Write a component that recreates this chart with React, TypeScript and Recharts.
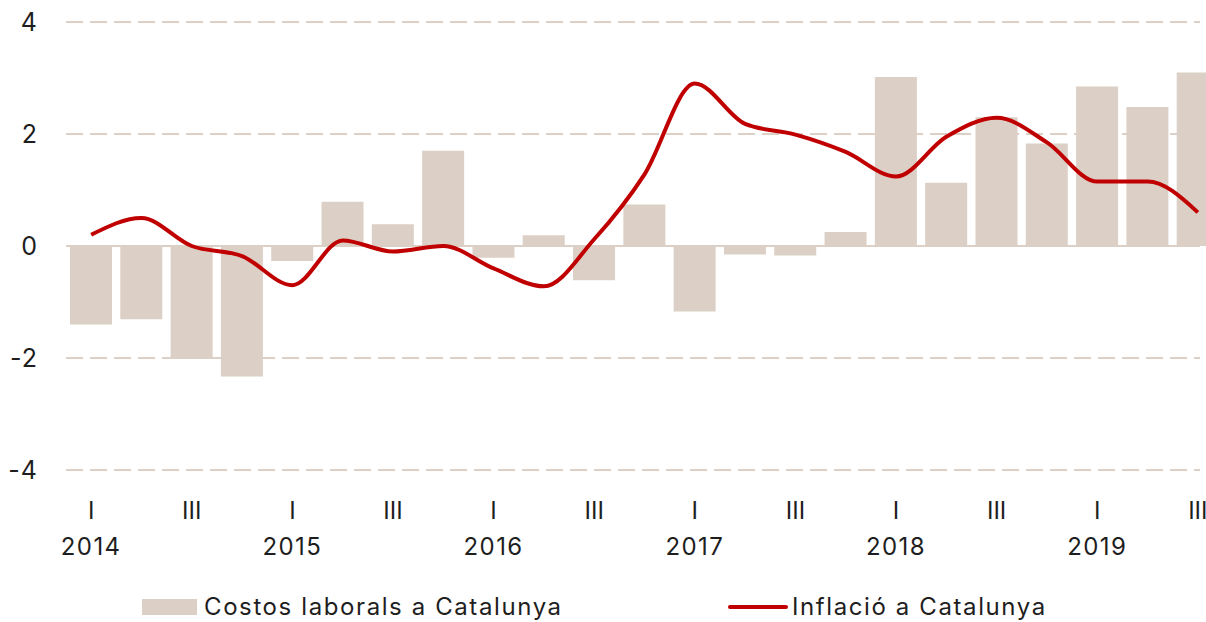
import React from "react";
import {
  ComposedChart,
  Bar,
  Line,
  XAxis,
  YAxis,
  CartesianGrid,
  ReferenceLine,
  Legend,
} from "recharts";

// trimestres 2014-I .. 2019-III
const periods = [
  "2014-I", "2014-II", "2014-III", "2014-IV",
  "2015-I", "2015-II", "2015-III", "2015-IV",
  "2016-I", "2016-II", "2016-III", "2016-IV",
  "2017-I", "2017-II", "2017-III", "2017-IV",
  "2018-I", "2018-II", "2018-III", "2018-IV",
  "2019-I", "2019-II", "2019-III",
];

const costosLaborals = [
  -1.4, -1.31, -2.02, -2.33,
  -0.27, 0.79, 0.39, 1.7,
  -0.21, 0.19, -0.61, 0.74,
  -1.17, -0.15, -0.17, 0.25,
  3.02, 1.13, 2.3, 1.83,
  2.85, 2.48, 3.1,
];

const inflacio = [
  0.2, 0.5, 0.0, -0.18,
  -0.7, 0.1, -0.1, 0.0,
  -0.4, -0.72, 0.12, 1.28,
  2.9, 2.18, 1.99, 1.68,
  1.24, 1.95, 2.29, 1.85,
  1.15, 1.15, 0.6,
];

const yTicks = [-4, -2, 0, 2, 4];
const shownQuarters = ["I", "III"];

const BAR_COLOR = "#dccfc6";
const LINE_COLOR = "#c00000";
const TEXT_COLOR = "#1e1e1e";
const FONT = "Inter, 'Noto Sans', sans-serif";

const data = periods.map((p, i) => ({
  period: p,
  costos: costosLaborals[i],
  inflacio: inflacio[i],
}));

const QuarterTick = (props: any) => {
  const { x, y, payload } = props;
  const [year, q] = String(payload.value).split("-");
  return (
    <g>
      {shownQuarters.includes(q) && (
        <text x={x} y={y + 49} textAnchor="middle" fill={TEXT_COLOR} fontSize={24} fontFamily={FONT}>
          {q}
        </text>
      )}
      {q === "I" && (
        <text x={x} y={y + 85} textAnchor="middle" fill={TEXT_COLOR} fontSize={24} fontFamily={FONT} letterSpacing={1.4}>
          {year}
        </text>
      )}
    </g>
  );
};

const LegendContent = () => (
  <div style={{ position: "relative", width: 1206, height: 62, fontFamily: FONT, fontSize: 24, color: TEXT_COLOR }}>
    <div style={{ position: "absolute", left: 142, top: 32, display: "flex", alignItems: "center" }}>
      <span style={{ display: "inline-block", width: 55, height: 16, background: BAR_COLOR, marginRight: 7 }} />
      <span style={{ letterSpacing: 1.6 }}>Costos laborals a Catalunya</span>
    </div>
    <div style={{ position: "absolute", left: 728, top: 32, display: "flex", alignItems: "center" }}>
      <span style={{ display: "inline-block", width: 60, height: 4, borderRadius: 2, background: LINE_COLOR, marginRight: 4 }} />
      <span style={{ letterSpacing: 1.6 }}>Inflació a Catalunya</span>
    </div>
  </div>
);

export default function App() {
  return (
    <div style={{ position: "fixed", left: 0, top: 0, width: 1206, height: 622, overflow: "hidden", background: "#fff" }}>
      <ComposedChart
        width={1206}
        height={622}
        data={data}
        margin={{ top: 22, right: 6, bottom: 0, left: 0 }}
      >
        <CartesianGrid vertical={false} stroke={BAR_COLOR} strokeWidth={2} strokeDasharray="17 7" />
        <XAxis
          dataKey="period"
          interval={0}
          height={90}
          tickLine={false}
          axisLine={false}
          tickSize={0}
          tickMargin={0}
          padding={{ left: 0, right: -23 }}
          tick={<QuarterTick />}
        />
        <YAxis
          domain={[-4, 4]}
          ticks={yTicks}
          width={66}
          tickLine={false}
          axisLine={false}
          tickSize={0}
          tickMargin={28}
          tick={{ fill: TEXT_COLOR, fontSize: 25, fontFamily: FONT, letterSpacing: 1 }}
        />
        <ReferenceLine y={0} stroke={BAR_COLOR} strokeWidth={2} />
        <Bar dataKey="costos" name="Costos laborals a Catalunya" fill={BAR_COLOR} barSize={42} isAnimationActive={false} />
        <Line
          dataKey="inflacio"
          name="Inflació a Catalunya"
          type="monotone"
          stroke={LINE_COLOR}
          strokeWidth={4}
          dot={false}
          isAnimationActive={false}
        />
        <Legend
          verticalAlign="bottom"
          height={62}
          wrapperStyle={{ left: 0, top: 560, width: 1206, height: 62 }}
          content={<LegendContent />}
        />
      </ComposedChart>
    </div>
  );
}
